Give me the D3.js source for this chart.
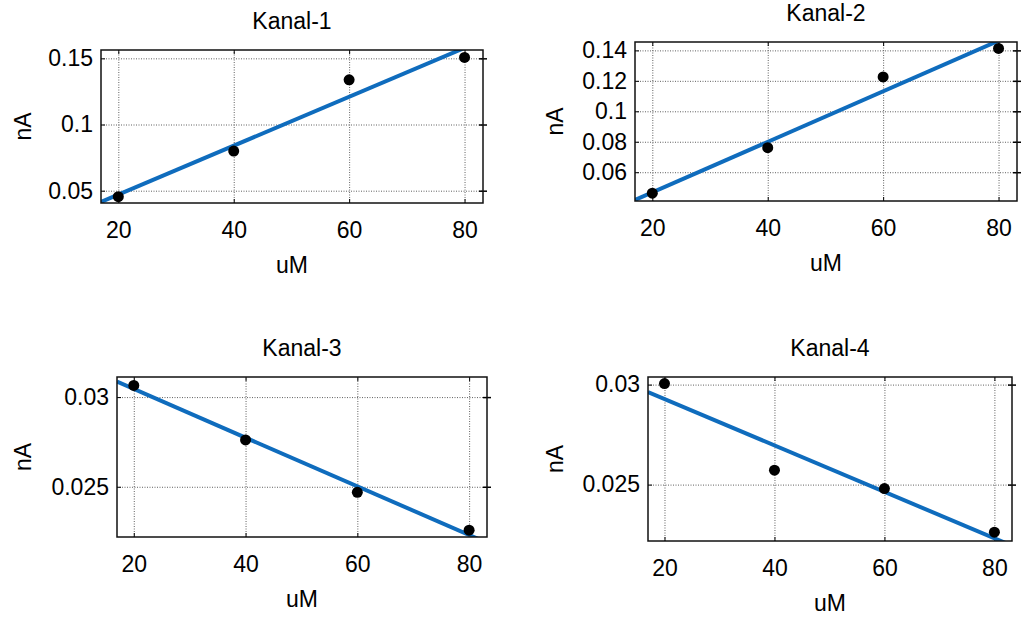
<!DOCTYPE html>
<html>
<head>
<meta charset="utf-8">
<script src="https://cdn.jsdelivr.net/npm/d3@7"></script>
<style>
  body { margin: 0; background: #fff; }
  svg { display: block; font-family: "Liberation Sans", Arial, sans-serif; }
</style>
</head>
<body>
<svg width="1031" height="621"></svg>
<script>
// measured concentrations (uM) and currents (nA) per channel
const xValues = [20, 40, 60, 80]
const kanal1 = [0.0455, 0.0799, 0.1338, 0.1507]
const kanal2 = [0.0462, 0.0761, 0.1226, 0.1413]
const kanal3 = [0.03065, 0.02761, 0.02469, 0.02258]
const kanal4 = [0.03005, 0.02572, 0.0248, 0.02262]

const titles = ['Kanal-1', 'Kanal-2', 'Kanal-3', 'Kanal-4']
const xTicks = [20, 40, 60, 80]
const yTicks1 = [0.05, 0.1, 0.15]
const yTicks2 = [0.06, 0.08, 0.1, 0.12, 0.14]
const yTicks3 = [0.025, 0.03]
const yTicks4 = [0.025, 0.03]

const xLimits = [17, 83.2]
const yLimits = [[0.0407, 0.1563], [0.0411, 0.1455], [0.0222, 0.03112], [0.02218, 0.03038]]

const xLabel = 'uM'
const yLabel = 'nA'

// axes boxes: left, top, right, bottom
const boxes = [[101, 50, 483, 203], [635, 42, 1017, 201], [117, 377, 487, 537], [648, 377, 1012, 541]]
const yLabelX = [23, 555, 23, 555]

const lineColour = '#0f6cbd'
const gridColour = '#606060'
const fontSize = 23

const svg = d3.select('svg')

function fitLine(xs, ys) {
  const mx = d3.mean(xs), my = d3.mean(ys)
  const sxy = d3.sum(xs, (x, i) => (x - mx) * (ys[i] - my))
  const sxx = d3.sum(xs, x => (x - mx) * (x - mx))
  const slope = sxy / sxx
  return x => my + slope * (x - mx)
}

function drawPanel(i, ys, yTicks) {
  const [left, top, right, bottom] = boxes[i]
  const w = right - left, h = bottom - top

  const x = d3.scaleLinear().domain(xLimits).range([0, w])
  const y = d3.scaleLinear().domain(yLimits[i]).range([h, 0])

  const g = svg.append('g').attr('transform', `translate(${left},${top})`)

  svg.append('clipPath').attr('id', 'clip' + i)
    .append('rect').attr('width', w).attr('height', h)

  // dotted grid
  g.append('g')
    .attr('transform', `translate(0,${h})`)
    .call(d3.axisBottom(x).tickValues(xTicks).tickSize(-h).tickFormat(''))
    .call(a => a.select('.domain').remove())
    .call(a => a.selectAll('line').attr('stroke', gridColour).attr('stroke-dasharray', '1,1.5'))
  g.append('g')
    .call(d3.axisLeft(y).tickValues(yTicks).tickSize(-w).tickFormat(''))
    .call(a => a.select('.domain').remove())
    .call(a => a.selectAll('line').attr('stroke', gridColour).attr('stroke-dasharray', '1,1.5'))

  // small tick marks on all sides
  const tick = 4
  g.append('g').attr('transform', `translate(0,${h})`)
    .call(d3.axisBottom(x).tickValues(xTicks).tickSize(-tick).tickFormat(''))
    .call(a => a.select('.domain').remove())
  g.append('g')
    .call(d3.axisTop(x).tickValues(xTicks).tickSize(-tick).tickFormat(''))
    .call(a => a.select('.domain').remove())
  g.append('g')
    .call(d3.axisLeft(y).tickValues(yTicks).tickSize(-tick).tickFormat(''))
    .call(a => a.select('.domain').remove())
  g.append('g').attr('transform', `translate(${w},0)`)
    .call(d3.axisRight(y).tickValues(yTicks).tickSizeInner(tick).tickSizeOuter(0).tickFormat(''))
    .call(a => a.select('.domain').remove())
    .call(a => a.selectAll('.tick line').attr('x1', -tick).attr('stroke-width', 1.5))

  // fitted line
  const fit = fitLine(xValues, ys)
  g.append('path')
    .datum(xLimits)
    .attr('clip-path', `url(#clip${i})`)
    .attr('fill', 'none')
    .attr('stroke', lineColour)
    .attr('stroke-width', 4)
    .attr('d', d3.line().x(d => x(d)).y(d => y(fit(d))))

  // measured points
  g.append('g')
    .selectAll('circle')
    .data(xValues)
    .enter().append('circle')
    .attr('cx', d => x(d))
    .attr('cy', (d, j) => y(ys[j]))
    .attr('r', 5.5)
    .attr('fill', '#000')

  // box
  g.append('rect')
    .attr('width', w).attr('height', h)
    .attr('fill', 'none')
    .attr('stroke', '#111')
    .attr('stroke-width', 1.5)

  // tick labels
  g.append('g').attr('transform', `translate(0,${h})`)
    .call(d3.axisBottom(x).tickValues(xTicks).tickSize(0).tickPadding(19).tickFormat(d3.format('d')))
    .call(a => a.select('.domain').remove())
    .call(a => a.selectAll('text').attr('font-size', fontSize).attr('fill', '#000'))
  g.append('g')
    .call(d3.axisLeft(y).tickValues(yTicks).tickSize(0).tickPadding(8).tickFormat(d3.format('~g')))
    .call(a => a.select('.domain').remove())
    .call(a => a.selectAll('text').attr('font-size', fontSize).attr('fill', '#000'))
  g.selectAll('.tick text').attr('font-family', '"Liberation Sans", Arial, sans-serif')

  // title and axis labels
  g.append('text')
    .attr('x', w / 2).attr('y', -21)
    .attr('text-anchor', 'middle')
    .attr('font-size', fontSize)
    .text(titles[i])
  g.append('text')
    .attr('x', w / 2).attr('y', h + 70)
    .attr('text-anchor', 'middle')
    .attr('font-size', fontSize)
    .text(xLabel)
  svg.append('text')
    .attr('transform', `translate(${yLabelX[i] + 8},${top + h / 2}) rotate(-90)`)
    .attr('text-anchor', 'middle')
    .attr('font-size', fontSize)
    .text(yLabel)
}

drawPanel(0, kanal1, yTicks1)
drawPanel(1, kanal2, yTicks2)
drawPanel(2, kanal3, yTicks3)
drawPanel(3, kanal4, yTicks4)
</script>
</body>
</html>
